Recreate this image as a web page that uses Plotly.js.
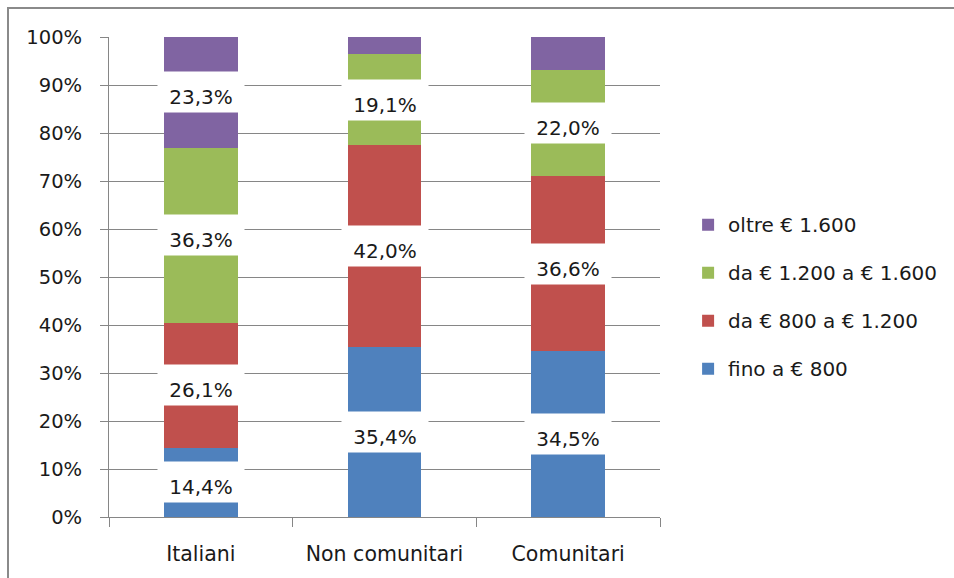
<!DOCTYPE html>
<html>
<head>
<meta charset="utf-8">
<script src="https://cdn.plot.ly/plotly-3.0.1.min.js"></script>
<style>
  html, body { margin: 0; padding: 0; background: #fff; }
  #wrap { position: relative; width: 954px; height: 578px; overflow: hidden; }
  #chart { position: absolute; left: 0; top: 0; width: 954px; height: 578px; }
  #frame { position: absolute; left: 7px; top: 7px; width: 960px; height: 600px;
           border-left: 2px solid #8a8a8a; border-top: 2px solid #8a8a8a; pointer-events: none; }
</style>
</head>
<body>
<div id="wrap"><div id="chart"></div><div id="frame"></div></div>
<script>
// ---- data ----
const categories = ["Italiani", "Non comunitari", "Comunitari"];
const seriesNames = ["fino a € 800", "da € 800 a € 1.200", "da € 1.200 a € 1.600", "oltre € 1.600"];
const finoA800     = [14.4, 35.4, 34.5];
const da800a1200   = [26.1, 42.0, 36.6];
const da1200a1600  = [36.3, 19.1, 22.0];
const oltre1600    = [23.3, 3.5, 6.9];
// which segments carry a visible data label in the original
const showFino   = [true, true, true];
const show800    = [true, true, true];
const show1200   = [true, true, true];
const showOltre  = [true, false, false];
const colors = ["#4F81BD", "#C0504D", "#9BBB59", "#8064A2"];

const series = [finoA800, da800a1200, da1200a1600, oltre1600];
const shows = [showFino, show800, show1200, showOltre];

const FONT = "DejaVu Sans, Verdana, sans-serif";
const TXT = "#1a1a1a";
const GRID = "#868686";

const traces = series.map((vals, i) => ({
  type: "bar",
  name: seriesNames[i],
  x: categories,
  y: vals,
  marker: { color: colors[i], line: { width: 0 } },
  legendgroup: "g" + i,
  legendrank: 10 - i,
  hoverinfo: "skip"
}));

// data labels with white boxes, centred on each stacked segment
const annotations = [];
categories.forEach((cat, c) => {
  let base = 0;
  series.forEach((vals, i) => {
    const v = vals[c];
    if (shows[i][c]) {
      annotations.push({
        x: cat, y: base + v / 2, xref: "x", yref: "y",
        text: v.toFixed(1).replace(".", ",") + "%",
        showarrow: false,
        bgcolor: "#ffffff",
        width: 80, height: 34, borderpad: 3, valign: "bottom",
        font: { family: FONT, size: 20, color: TXT }
      });
    }
    base += v;
  });
});

const layout = {
  width: 954, height: 578,
  margin: { l: 109, r: 294, t: 37, b: 61 },
  paper_bgcolor: "#ffffff", plot_bgcolor: "#ffffff",
  barmode: "stack",
  bargap: 0.6,
  showlegend: true,
  legend: {
    x: 1.051, xanchor: "left", y: 0.459, yanchor: "middle",
    traceorder: "grouped", tracegroupgap: 19,
    font: { family: FONT, size: 20, color: TXT },
    itemclick: false, itemdoubleclick: false
  },
  xaxis: {
    type: "category",
    showline: true, linecolor: GRID, linewidth: 1,
    ticks: "outside", tickson: "boundaries", ticklen: 9, tickcolor: GRID, tickwidth: 1,
    showgrid: false, zeroline: false,
    ticklabelstandoff: 18,
    tickfont: { family: FONT, size: 20.5, color: TXT }
  },
  yaxis: {
    range: [0, 100], dtick: 10, tick0: 0, ticksuffix: "%",
    showline: true, linecolor: GRID, linewidth: 1,
    ticks: "outside", ticklen: 8, tickcolor: GRID, tickwidth: 1,
    showgrid: true, gridcolor: GRID, gridwidth: 1, zeroline: false,
    ticklabelstandoff: 14,
    tickfont: { family: FONT, size: 19.5, color: TXT }
  },
  annotations: annotations
};

Plotly.newPlot("chart", traces, layout, { staticPlot: true, displayModeBar: false });
</script>
</body>
</html>
